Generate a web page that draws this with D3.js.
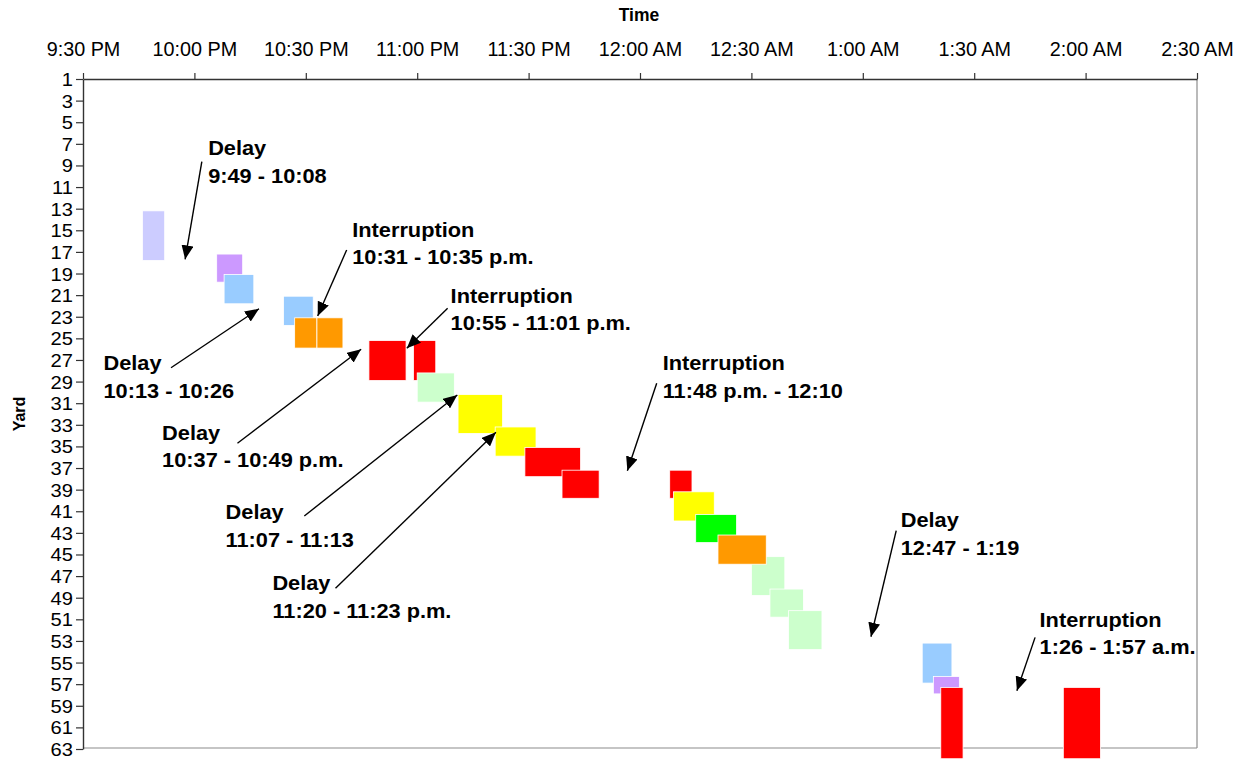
<!DOCTYPE html>
<html>
<head>
<meta charset="utf-8">
<script src="https://cdn.jsdelivr.net/npm/d3@7"></script>
<style>
  body { margin: 0; background: #fff; }
  svg { display: block; }
  text { font-family: "Liberation Sans", Arial, Helvetica, sans-serif; fill: #000; }
</style>
</head>
<body>
<svg id="chart" width="1243" height="761"></svg>
<script>
// ---- Yard work blocks (draw order = array order) ----
const blockStart = ["21:46","22:06","22:08","22:24","22:27","22:33","22:47","22:59","23:00","23:11","23:21","23:29","23:39",
                    "0:08","0:09","0:15","0:30","0:21","0:35","0:40","1:16","1:19","1:21","1:54"];
const blockEnd   = ["21:52","22:13","22:16","22:32","22:33","22:40","22:57","23:05","23:10","23:23","23:32","23:44","23:49",
                    "0:14","0:20","0:26","0:39","0:34","0:44","0:49","1:24","1:26","1:27","2:04"];
const yardFrom   = [13.2,17.2,19.1,21.1,23.1,23.1,25.2,25.2,28.2,30.2,33.2,35.1,37.2,
                    37.2,39.2,41.3,45.2,43.2,48.2,50.2,53.2,56.3,57.3,57.3];
const yardTo     = [17.8,19.8,21.8,23.8,25.9,25.9,28.9,28.9,30.9,33.8,35.9,37.8,39.8,
                    39.8,41.9,43.9,48.8,45.9,50.8,53.8,56.9,57.9,63.9,63.9];
const blockGroup = ["lavender","purple","blue","blue","orange","orange","red","red","mint","yellow","yellow","red","red",
                    "red","yellow","green","mint","orange","mint","mint","blue","purple","red","red"];

// ---- Axes ----
const timeTicks = ["21:30","22:00","22:30","23:00","23:30","0:00","0:30","1:00","1:30","2:00","2:30"];
const yardTicks = [1,3,5,7,9,11,13,15,17,19,21,23,25,27,29,31,33,35,37,39,41,43,45,47,49,51,53,55,57,59,61,63];

// ---- Annotations: label anchor, arrow tail and arrow head (clock time, yard) ----
const noteKind  = ["Delay","Delay","Interruption","Interruption","Delay","Delay","Delay","Interruption","Delay","Interruption"];
const noteRange = ["9:49 - 10:08","10:13 - 10:26","10:31 - 10:35 p.m.","10:55 - 11:01 p.m.","10:37 - 10:49 p.m.",
                   "11:07 - 11:13","11:20 - 11:23 p.m.","11:48 p.m. - 12:10","12:47 - 1:19","1:26 - 1:57 a.m."];
const noteAt    = [["22:03.7",8.03],["21:35.5",27.93],["22:42.5",15.59],["23:09.0",21.70],["21:51.3",34.38],
                   ["22:08.4",41.75],["22:21.0",48.29],["0:06.1",27.93],["1:10.2",42.49],["1:47.6",51.68]];
const arrowFrom = [["22:02.0",8.65],["21:53.7",27.72],["22:41.0",16.82],["23:08.2",22.22],["22:11.6",34.71],
                   ["22:29.6",41.44],["22:38.0",48.13],["0:04.5",29.16],["1:09.0",42.80],["1:46.4",52.67]];
const arrowTo   = [["21:57.5",17.69],["22:17.4",22.26],["22:33.2",22.93],["22:57.2",25.92],["22:44.9",26.01],
                   ["23:10.8",30.24],["23:21.2",33.70],["23:56.6",37.25],["1:02.2",52.61],["1:41.5",57.61]];

const palette = {
  lavender: "#CCCCFF", purple: "#CC99FF", blue: "#99CCFF", orange: "#FF9900",
  red: "#FF0000", mint: "#CCFFCC", yellow: "#FFFF00", green: "#00FF00"
};

// Clock strings: evening hours fall on the first night, early-morning hours on the next day
function clock(s) {
  const [h, m] = s.split(":").map(Number);
  const d = new Date(2000, 0, h < 12 ? 2 : 1, h, 0, 0);
  return new Date(d.getTime() + m * 60000);
}

const svg = d3.select("#chart");
const plotLeft = 83, plotRight = 1197, plotTop = 79, plotBottom = 749;

const x = d3.scaleTime()
  .domain([clock(timeTicks[0]), clock(timeTicks[timeTicks.length - 1])])
  .range([plotLeft, plotRight]);
const y = d3.scaleLinear().domain([1, 63]).range([plotTop, plotBottom]);

// Plot frame: grey right/bottom edges
svg.append("line").attr("x1", plotRight).attr("x2", plotRight).attr("y1", plotTop).attr("y2", plotBottom - 1)
  .attr("stroke", "#8c8c8c").attr("stroke-width", 1.2);
svg.append("line").attr("x1", plotLeft).attr("x2", plotRight).attr("y1", plotBottom - 1).attr("y2", plotBottom - 1)
  .attr("stroke", "#8c8c8c").attr("stroke-width", 1.2);

// Blocks
const blocks = blockStart.map((s, i) => ({
  t0: clock(s), t1: clock(blockEnd[i]), y0: yardFrom[i], y1: yardTo[i], g: blockGroup[i]
}));
svg.append("g").selectAll("rect").data(blocks).join("rect")
  .attr("x", d => x(d.t0))
  .attr("y", d => y(d.y0))
  .attr("width", d => x(d.t1) - x(d.t0))
  .attr("height", d => y(d.y1) - y(d.y0))
  .attr("fill", d => palette[d.g])
  .attr("stroke", "#fff")
  .attr("stroke-width", 0.8);

// Top time axis
const xAxis = d3.axisTop(x)
  .tickValues(timeTicks.map(clock))
  .tickFormat(d3.timeFormat("%-I:%M %p"))
  .tickSize(6).tickPadding(17).tickSizeOuter(0);
const gx = svg.append("g").attr("transform", `translate(0,${plotTop})`).call(xAxis);
gx.select(".domain").attr("stroke", "#333").attr("stroke-width", 1.4);
gx.selectAll(".tick line").attr("stroke", "#333").attr("stroke-width", 1.2);
gx.selectAll(".tick text").attr("font-size", 19.8).attr("fill", "#000")
  .attr("font-family", "'Liberation Sans', Arial, sans-serif");

// Left yard axis (labels slightly widened)
const yLabelStretch = 1.12;
const yAxis = d3.axisLeft(y).tickValues(yardTicks).tickFormat(d3.format("d"))
  .tickSize(7).tickPadding(3).tickSizeOuter(0);
const gy = svg.append("g").attr("transform", `translate(${plotLeft},0)`).call(yAxis);
gy.select(".domain").attr("stroke", "#333").attr("stroke-width", 1.4);
gy.selectAll(".tick line").attr("stroke", "#333").attr("stroke-width", 1.2);
gy.selectAll(".tick text").attr("font-size", 18).attr("fill", "#000")
  .attr("font-family", "'Liberation Sans', Arial, sans-serif")
  .attr("dy", "0.36em")
  .attr("x", -10 / yLabelStretch)
  .attr("transform", `scale(${yLabelStretch},1)`);

// Axis titles
svg.append("text").attr("x", (plotLeft + plotRight) / 2 - 1).attr("y", 21)
  .attr("text-anchor", "middle").attr("font-weight", "bold").attr("font-size", 17.5).text("Time");
svg.append("text").attr("transform", `translate(25,414) rotate(-90)`)
  .attr("text-anchor", "middle").attr("font-weight", "bold").attr("font-size", 16).text("Yard");

// Arrowhead marker
svg.append("defs").append("marker")
  .attr("id", "head").attr("viewBox", "0 0 14 12")
  .attr("refX", 14).attr("refY", 6)
  .attr("markerWidth", 14).attr("markerHeight", 12)
  .attr("markerUnits", "userSpaceOnUse").attr("orient", "auto")
  .append("path").attr("d", "M0,0 L14,6 L0,12 Z").attr("fill", "#000");

const notes = noteKind.map((k, i) => ({
  kind: k, range: noteRange[i],
  at: [x(clock(noteAt[i][0])), y(noteAt[i][1])],
  from: [x(clock(arrowFrom[i][0])), y(arrowFrom[i][1])],
  to: [x(clock(arrowTo[i][0])), y(arrowTo[i][1])]
}));

const ng = svg.append("g");
ng.selectAll("line").data(notes).join("line")
  .attr("x1", d => d.from[0]).attr("y1", d => d.from[1])
  .attr("x2", d => d.to[0]).attr("y2", d => d.to[1])
  .attr("stroke", "#000").attr("stroke-width", 1.4)
  .attr("marker-end", "url(#head)");

const labels = ng.selectAll("text").data(notes).join("text")
  .attr("transform", d => `translate(${d.at[0]},${d.at[1]}) scale(1.1,1)`)
  .attr("font-weight", "bold").attr("font-size", 19.8);
labels.append("tspan").attr("x", 0).attr("y", 0).text(d => d.kind);
labels.append("tspan").attr("x", 0).attr("y", 27.7).text(d => d.range);
</script>
</body>
</html>
